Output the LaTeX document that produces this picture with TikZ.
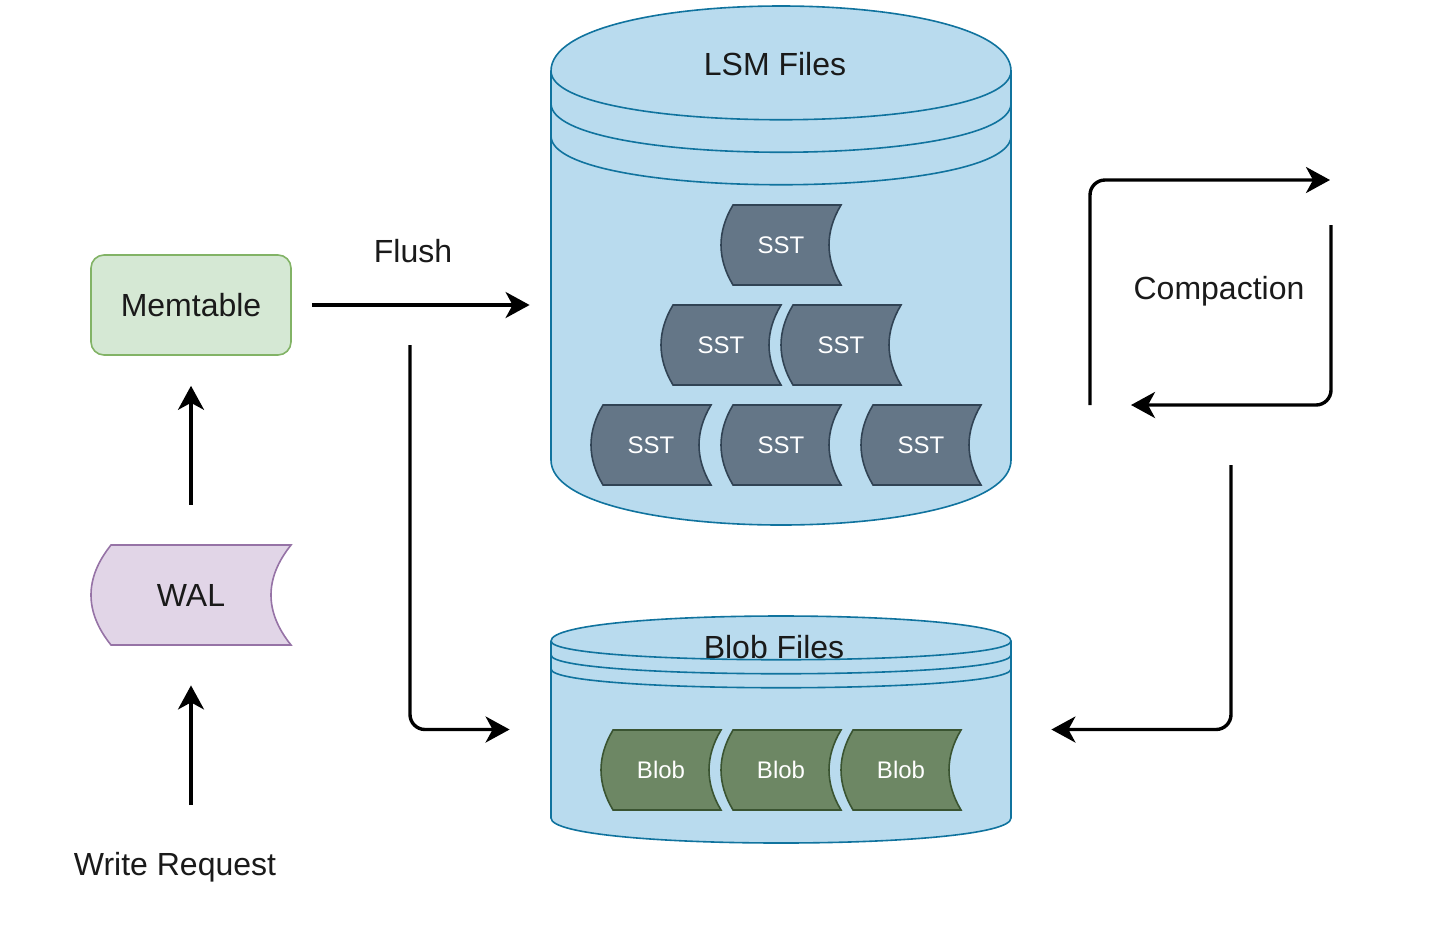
\documentclass[tikz,border=0pt]{standalone}
\usepackage{fontspec}
\setmainfont{Liberation Sans}
\usetikzlibrary{arrows.meta}
\definecolor{memfill}{HTML}{D5E8D4}
\definecolor{memline}{HTML}{82B366}
\definecolor{walfill}{HTML}{E1D5E7}
\definecolor{walline}{HTML}{9673A6}
\definecolor{cylfill}{HTML}{B9DBEE}
\definecolor{cylline}{HTML}{10739E}
\definecolor{sstfill}{HTML}{647687}
\definecolor{sstline}{HTML}{314354}
\definecolor{blobfill}{HTML}{6D8764}
\definecolor{blobline}{HTML}{3A5431}
\definecolor{txt}{HTML}{1A1A1A}
% data-storage shape: name, cx, cy, w, h, shape style, node style, text
\newcommand\dstore[8]{%
  \pgfmathsetmacro\dsL{#2-#4/2}%
  \pgfmathsetmacro\dsR{#2+#4/2}%
  \pgfmathsetmacro\dsT{#3-#5/2}%
  \pgfmathsetmacro\dsB{#3+#5/2}%
  \pgfmathsetmacro\dsS{0.1*#4}%
  \pgfmathsetmacro\dsH{#5/3}%
  \path[#6] (\dsL+\dsS,\dsT) -- (\dsR,\dsT)
    .. controls (\dsR-4*\dsS/3,\dsT+\dsH) and (\dsR-4*\dsS/3,\dsB-\dsH) .. (\dsR,\dsB)
    -- (\dsL+\dsS,\dsB)
    .. controls (\dsL-\dsS/3,\dsB-\dsH) and (\dsL-\dsS/3,\dsT+\dsH) .. (\dsL+\dsS,\dsT) -- cycle;
  \node[#7, minimum width={#4*0.5pt}, minimum height={#5*0.5pt}] (#1) at (#2,#3) {#8};
}
% datastore cylinder: left, right, top, bottom, dy, gap
\newcommand\datacyl[6]{%
  \path[cylbody] (#1,#3+#5) .. controls (#1,#3-#5/3) and (#2,#3-#5/3) .. (#2,#3+#5)
    -- (#2,#4-#5) .. controls (#2,#4+#5/3) and (#1,#4+#5/3) .. (#1,#4-#5) -- cycle;
  \foreach \k in {0,1,2}{%
    \draw[cylrim] (#1,#3+#5+\k*#6) .. controls (#1,#3+2*#5+\k*#6) and (#2,#3+2*#5+\k*#6) .. (#2,#3+#5+\k*#6);
  }%
}
\begin{document}
\begin{tikzpicture}[x=0.5pt,y=-0.5pt,
  bigtext/.style={font=\fontsize{16}{19}\selectfont, text=txt},
  smalltext/.style={font=\fontsize{12}{14}\selectfont, text=white},
  memstyle/.style={draw=memline, fill=memfill, line width=0.8pt, rounded corners=6.5pt,
    minimum width=100pt, minimum height=50pt, bigtext},
  walshape/.style={draw=walline, fill=walfill, line width=0.8pt},
  sstshape/.style={draw=sstline, fill=sstfill, line width=0.8pt},
  blobshape/.style={draw=blobline, fill=blobfill, line width=0.8pt},
  cylbody/.style={draw=cylline, fill=cylfill, line width=0.8pt},
  cylrim/.style={draw=cylline, line width=0.8pt},
  holder/.style={inner sep=0pt},
  arr/.style={draw=black, line width=1.7pt, rounded corners=7.5pt,
    -{Stealth[length=12pt,width=13pt,inset=3.5pt]}}
]
\useasboundingbox (0,0) rectangle (1454,932);

% cylinders
\datacyl{551}{1011}{6}{525}{65}{32.5}
\node[holder, minimum width=230pt, minimum height=259.5pt] (lsm) at (781,265.5) {};
\node[bigtext] (lsmtitle) at (775,64) {LSM Files};

\datacyl{551}{1011}{616}{843}{25}{14}
\node[holder, minimum width=230pt, minimum height=113.5pt] (blobs) at (781,729.5) {};
\node[bigtext] (blobtitle) at (774,647) {Blob Files};

% SST files
\dstore{sstA}{781}{245}{120}{80}{sstshape}{smalltext}{SST}
\dstore{sstB}{721}{345}{120}{80}{sstshape}{smalltext}{SST}
\dstore{sstC}{841}{345}{120}{80}{sstshape}{smalltext}{SST}
\dstore{sstD}{651}{445}{120}{80}{sstshape}{smalltext}{SST}
\dstore{sstE}{781}{445}{120}{80}{sstshape}{smalltext}{SST}
\dstore{sstF}{921}{445}{120}{80}{sstshape}{smalltext}{SST}

% Blob files
\dstore{blobA}{661}{770}{120}{80}{blobshape}{smalltext}{Blob}
\dstore{blobB}{781}{770}{120}{80}{blobshape}{smalltext}{Blob}
\dstore{blobC}{901}{770}{120}{80}{blobshape}{smalltext}{Blob}

% left column
\node[memstyle] (mem) at (191,305) {Memtable};
\dstore{wal}{191}{595}{200}{100}{walshape}{bigtext}{WAL}
\node[bigtext] (wr) at (175,867) {Write Request};
\coordinate (wrtop) at (191,805);

\draw[arr, shorten <=20pt, shorten >=15pt] (wal.north) -- (mem.south);
\draw[arr, shorten >=20pt] (wrtop) -- (wal.south);

% flush
\node[bigtext] (flush) at (413,251) {Flush};
\draw[arr, shorten <=10pt, shorten >=10.5pt] (mem.east) -- (mem.east -| lsm.west);
\coordinate (fsplit) at (410,345);
\draw[arr, shorten >=20.5pt] (fsplit) |- (blobs.west);

% compaction
\node[bigtext] (comp) at (1219,291) {Compaction};
\coordinate (cA) at (1090,405);
\coordinate (cB) at (1330,180);
\coordinate (cC) at (1331,225);
\coordinate (cD) at (1131,405);
\draw[arr] (cA) |- (cB);
\draw[arr] (cC) |- (cD);
\coordinate (cE) at (1231,465);
\draw[arr, shorten >=20pt] (cE) |- (blobs.east);
\end{tikzpicture}
\end{document}
